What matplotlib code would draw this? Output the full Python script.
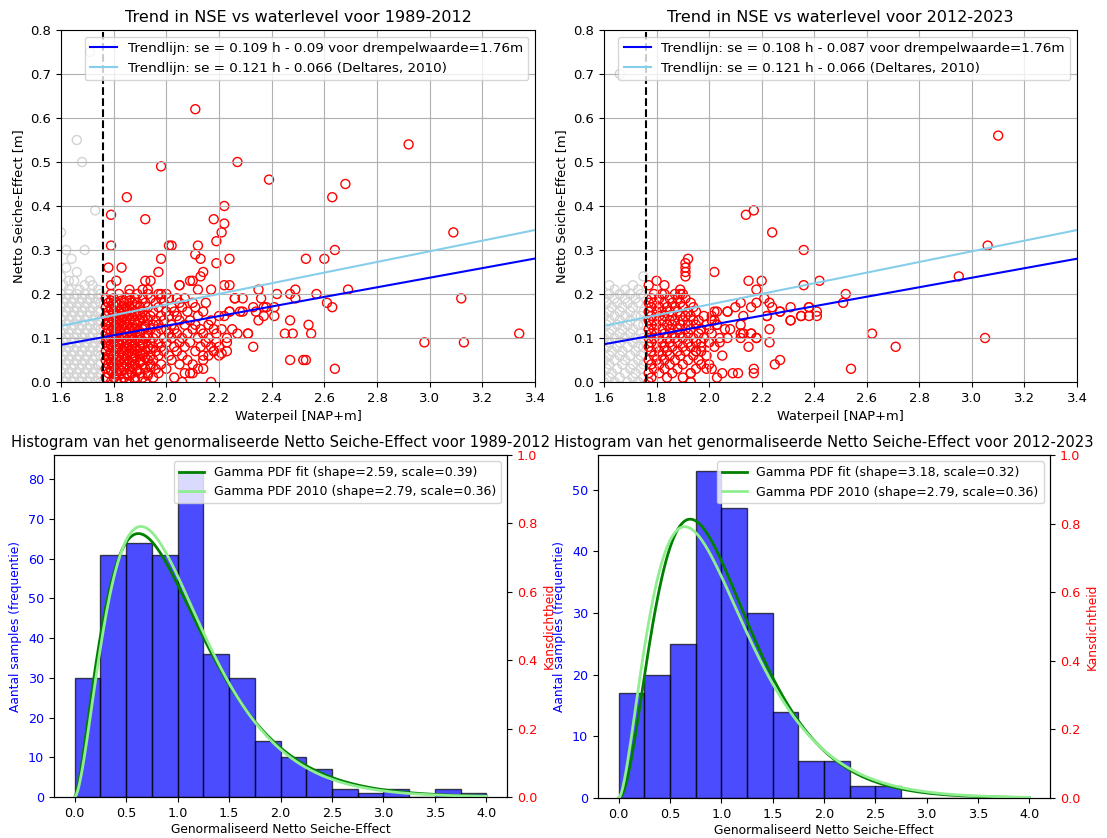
import math
import numpy as np
import matplotlib
matplotlib.use("Agg")
import matplotlib.pyplot as plt

# ---------------- data: NSE vs waterlevel 1989-2012 ----------------
THRESHOLD = 1.76
TREND_A = (0.109, -0.09)
TREND_B = (0.108, -0.087)
TREND_2010 = (0.121, -0.066)

# dense part above threshold, one list of waterlevels per NSE row
DENSE_A_Y = [0.00, 0.01, 0.02, 0.03, 0.04, 0.05, 0.06, 0.07, 0.08, 0.09, 0.10,
             0.11, 0.12, 0.13, 0.14, 0.15, 0.16, 0.17, 0.18, 0.19, 0.20]
DENSE_A_X = [
    [1.79, 1.83, 1.86, 1.92, 2.06, 2.17],
    [1.77, 1.80, 1.84, 1.88, 1.91, 1.95, 2.03],
    [1.78, 1.81, 1.85, 1.87, 1.90, 1.93, 1.97, 2.09],
    [1.77, 1.79, 1.82, 1.86, 1.89, 1.92, 1.96, 2.00, 2.12],
    [1.78, 1.80, 1.83, 1.85, 1.88, 1.91, 1.94, 1.98, 2.05, 2.10],
    [1.77, 1.79, 1.81, 1.84, 1.87, 1.90, 1.93, 1.95, 2.02, 2.08, 2.14],
    [1.78, 1.80, 1.82, 1.85, 1.88, 1.91, 1.94, 1.97, 2.01, 2.06, 2.16, 2.20],
    [1.77, 1.79, 1.83, 1.86, 1.89, 1.92, 1.96, 1.99, 2.04, 2.11, 2.18],
    [1.78, 1.81, 1.84, 1.87, 1.90, 1.93, 1.95, 1.98, 2.03, 2.07, 2.13, 2.17],
    [1.77, 1.80, 1.82, 1.85, 1.88, 1.91, 1.94, 1.97, 2.00, 2.05, 2.09, 2.15, 2.19],
    [1.78, 1.79, 1.81, 1.84, 1.86, 1.89, 1.92, 1.95, 1.99, 2.02, 2.06, 2.12, 2.16],
    [1.77, 1.80, 1.83, 1.85, 1.87, 1.90, 1.93, 1.96, 2.01, 2.04, 2.08, 2.14, 2.19],
    [1.78, 1.81, 1.84, 1.86, 1.88, 1.91, 1.94, 1.98, 2.00, 2.03, 2.10, 2.13, 2.18],
    [1.77, 1.79, 1.82, 1.85, 1.89, 1.92, 1.95, 1.97, 2.02, 2.07, 2.11, 2.16],
    [1.78, 1.80, 1.83, 1.86, 1.88, 1.90, 1.93, 1.96, 1.99, 2.05, 2.09, 2.17],
    [1.77, 1.81, 1.84, 1.87, 1.89, 1.92, 1.94, 1.98, 2.01, 2.04, 2.12, 2.20],
    [1.78, 1.80, 1.82, 1.85, 1.88, 1.91, 1.95, 2.00, 2.03, 2.08, 2.14],
    [1.77, 1.79, 1.83, 1.86, 1.90, 1.93, 1.97, 2.02, 2.06, 2.11],
    [1.78, 1.81, 1.84, 1.87, 1.89, 1.92, 1.96, 1.99, 2.05, 2.10],
    [1.77, 1.80, 1.85, 1.88, 1.91, 1.94, 1.98, 2.01, 2.04],
    [1.79, 1.82, 1.86, 1.89, 1.93, 1.97, 2.00],
]
# extra points in the most crowded part (1.77 - 1.95)
EXTRA_A_Y = [0.005, 0.015, 0.025, 0.035, 0.045, 0.055, 0.065, 0.075, 0.085, 0.095,
             0.105, 0.115, 0.125, 0.135, 0.145, 0.155, 0.165, 0.175, 0.185]
EXTRA_A_X = [
    [1.81, 1.88],
    [1.82, 1.86, 1.93],
    [1.79, 1.83, 1.89],
    [1.80, 1.84, 1.87, 1.94],
    [1.79, 1.82, 1.86, 1.90],
    [1.78, 1.83, 1.88, 1.92],
    [1.79, 1.84, 1.87, 1.90],
    [1.81, 1.85, 1.88, 1.94],
    [1.79, 1.82, 1.86, 1.91],
    [1.78, 1.83, 1.87, 1.90],
    [1.80, 1.83, 1.87, 1.93],
    [1.79, 1.82, 1.86, 1.89],
    [1.80, 1.83, 1.87, 1.92],
    [1.78, 1.81, 1.84, 1.88],
    [1.79, 1.82, 1.85, 1.91],
    [1.80, 1.83, 1.86, 1.90],
    [1.79, 1.84, 1.87],
    [1.80, 1.82, 1.88],
    [1.79, 1.83, 1.86],
]
# scattered points above threshold
OUT_A_X = [2.11, 2.92, 1.98, 2.27, 2.39, 2.68, 2.63, 1.85, 1.79, 1.92, 2.22, 2.18,
           2.22, 2.21, 2.19, 3.09, 1.79, 2.01, 2.02, 2.12, 2.64, 1.98, 2.11, 2.13,
           2.24, 2.19, 2.53, 2.60, 1.78, 1.83, 1.97, 2.14, 2.13, 2.09, 2.10, 1.92,
           1.94, 1.81, 1.79, 2.05, 2.22, 2.24, 1.86, 1.91, 1.93, 1.98, 2.12, 2.17,
           2.35, 2.49, 2.47, 2.42, 2.57, 2.69, 3.12, 2.36, 2.26, 2.07, 2.61, 2.63,
           2.49, 2.33, 2.37, 2.35, 2.47, 2.54, 2.55, 2.45, 2.48, 2.27, 2.31, 2.31,
           2.25, 2.98, 3.13, 3.34, 2.33, 2.47, 2.52, 2.53, 2.64, 2.28, 2.29, 2.24,
           2.23, 2.23, 2.21, 2.18, 2.05, 2.15, 2.26, 2.29, 2.38, 2.20, 2.14, 2.10,
           2.07, 2.14, 2.24, 2.22, 2.21, 2.23, 2.34, 2.37, 2.41, 2.41]
OUT_A_Y = [0.62, 0.54, 0.49, 0.50, 0.46, 0.45, 0.42, 0.42, 0.38, 0.37, 0.40, 0.37,
           0.36, 0.34, 0.32, 0.34, 0.31, 0.31, 0.31, 0.31, 0.30, 0.28, 0.29, 0.28,
           0.28, 0.27, 0.28, 0.28, 0.26, 0.26, 0.25, 0.25, 0.24, 0.23, 0.23, 0.23,
           0.23, 0.23, 0.22, 0.22, 0.22, 0.22, 0.21, 0.21, 0.21, 0.20, 0.21, 0.21,
           0.21, 0.21, 0.20, 0.20, 0.20, 0.21, 0.19, 0.19, 0.19, 0.19, 0.18, 0.17,
           0.19, 0.17, 0.17, 0.14, 0.14, 0.13, 0.11, 0.11, 0.11, 0.11, 0.11, 0.11,
           0.12, 0.09, 0.09, 0.11, 0.08, 0.05, 0.05, 0.05, 0.03, 0.16, 0.16, 0.16,
           0.09, 0.07, 0.065, 0.07, 0.22, 0.18, 0.19, 0.19, 0.17, 0.08, 0.03, 0.02,
           0.02, 0.06, 0.16, 0.15, 0.12, 0.10, 0.16, 0.15, 0.17, 0.15]

# below threshold (grey)
GREY_A_Y = [0.00, 0.01, 0.02, 0.03, 0.04, 0.05, 0.06, 0.07, 0.08, 0.09, 0.10,
            0.11, 0.12, 0.13, 0.14, 0.15, 0.16, 0.17, 0.18, 0.19, 0.20]
GREY_A_X = [
    [1.58, 1.61, 1.64, 1.67, 1.70, 1.73, 1.75],
    [1.59, 1.62, 1.65, 1.68, 1.71, 1.74],
    [1.57, 1.60, 1.63, 1.66, 1.69, 1.72, 1.75],
    [1.58, 1.61, 1.64, 1.67, 1.70, 1.73],
    [1.59, 1.62, 1.65, 1.68, 1.71, 1.74, 1.75],
    [1.57, 1.60, 1.63, 1.66, 1.69, 1.72],
    [1.58, 1.61, 1.64, 1.67, 1.70, 1.73, 1.75],
    [1.59, 1.62, 1.65, 1.68, 1.71, 1.74],
    [1.57, 1.60, 1.63, 1.66, 1.69, 1.72, 1.75],
    [1.58, 1.61, 1.64, 1.67, 1.70, 1.73],
    [1.59, 1.62, 1.65, 1.68, 1.71, 1.74, 1.75],
    [1.57, 1.60, 1.63, 1.66, 1.69, 1.72],
    [1.58, 1.61, 1.64, 1.67, 1.70, 1.73, 1.75],
    [1.59, 1.62, 1.65, 1.68, 1.71, 1.74],
    [1.57, 1.60, 1.63, 1.66, 1.69, 1.72, 1.75],
    [1.58, 1.61, 1.64, 1.67, 1.70, 1.73],
    [1.59, 1.62, 1.65, 1.68, 1.71, 1.74, 1.75],
    [1.57, 1.60, 1.63, 1.66, 1.69, 1.72],
    [1.58, 1.61, 1.64, 1.67, 1.70, 1.73, 1.75],
    [1.59, 1.62, 1.65, 1.68, 1.71, 1.74],
    [1.60, 1.63, 1.66, 1.69, 1.72, 1.75],
]
GREY_OUT_A_X = [1.71, 1.66, 1.68, 1.73, 1.60, 1.62, 1.69, 1.64, 1.62, 1.63, 1.65,
                1.69, 1.63, 1.61, 1.67, 1.72, 1.74, 1.60, 1.66, 1.71]
GREY_OUT_A_Y = [0.75, 0.55, 0.50, 0.39, 0.34, 0.30, 0.30, 0.28, 0.26, 0.23, 0.23,
                0.22, 0.21, 0.22, 0.21, 0.22, 0.21, 0.24, 0.25, 0.23]

# ---------------- data: NSE vs waterlevel 2012-2023 ----------------
DENSE_B_Y = [0.00, 0.01, 0.02, 0.03, 0.04, 0.05, 0.06, 0.07, 0.08, 0.09, 0.10,
             0.11, 0.12, 0.13, 0.14, 0.15, 0.16, 0.17, 0.18, 0.19, 0.20]
DENSE_B_X = [
    [1.77, 1.93],
    [1.78, 1.84, 1.90],
    [1.77, 1.81, 1.86, 1.93],
    [1.79, 1.83, 1.88, 1.95],
    [1.78, 1.81, 1.85, 1.90, 1.97],
    [1.77, 1.80, 1.83, 1.87, 1.92, 1.96],
    [1.79, 1.82, 1.85, 1.89, 1.94, 1.99],
    [1.78, 1.81, 1.84, 1.88, 1.91, 1.95],
    [1.77, 1.80, 1.83, 1.86, 1.90, 1.93, 1.97, 2.02],
    [1.78, 1.82, 1.85, 1.88, 1.92, 1.95, 2.00],
    [1.77, 1.79, 1.81, 1.84, 1.87, 1.90, 1.94, 1.98, 2.04],
    [1.78, 1.80, 1.83, 1.86, 1.89, 1.92, 1.96, 2.01],
    [1.77, 1.79, 1.82, 1.85, 1.88, 1.91, 1.93, 1.97, 2.00],
    [1.78, 1.80, 1.84, 1.86, 1.89, 1.92, 1.95, 1.99, 2.03],
    [1.77, 1.79, 1.82, 1.85, 1.87, 1.90, 1.94, 1.96, 2.01],
    [1.78, 1.81, 1.83, 1.86, 1.89, 1.91, 1.93, 1.98],
    [1.77, 1.80, 1.82, 1.85, 1.88, 1.92, 1.95],
    [1.78, 1.81, 1.84, 1.87, 1.90, 1.94],
    [1.77, 1.79, 1.83, 1.86, 1.89, 1.93],
    [1.78, 1.81, 1.85, 1.88, 1.91],
    [1.79, 1.83, 1.87, 1.90],
]
OUT_B_X = [3.10, 2.17, 2.14, 2.24, 2.36, 3.06, 1.92, 1.91, 1.91, 1.91, 1.91, 2.02,
           2.95, 2.15, 2.20, 2.42, 1.80, 1.77, 1.83, 2.36, 2.18, 1.89, 1.89, 2.52,
           2.51, 1.82, 2.23, 2.18, 2.16, 2.12, 2.31, 2.38, 2.41, 2.41, 2.38, 2.35,
           2.27, 2.31, 2.22, 2.23, 2.23, 2.18, 2.16, 2.12, 2.07, 2.04, 2.62, 2.71,
           3.05, 2.54, 2.27, 2.25, 2.17, 2.17, 2.09, 2.11, 2.05, 2.03, 2.05, 2.00,
           1.99, 2.01, 1.97, 1.95, 1.93, 1.93, 2.00, 1.97, 2.06, 2.12, 2.13, 2.10,
           2.07, 2.13, 2.02, 2.03, 2.01, 2.02, 2.03, 2.07, 2.08, 2.12, 2.13, 2.16,
           2.18, 2.15, 2.22, 2.27, 2.31, 2.35, 2.38, 2.21, 2.24]
OUT_B_Y = [0.56, 0.39, 0.38, 0.34, 0.30, 0.31, 0.28, 0.27, 0.26, 0.25, 0.24, 0.25,
           0.24, 0.23, 0.23, 0.23, 0.23, 0.22, 0.22, 0.22, 0.21, 0.21, 0.20, 0.20,
           0.18, 0.20, 0.18, 0.18, 0.17, 0.18, 0.17, 0.17, 0.16, 0.15, 0.15, 0.15,
           0.16, 0.14, 0.15, 0.12, 0.09, 0.10, 0.11, 0.10, 0.10, 0.09, 0.11, 0.08,
           0.10, 0.03, 0.05, 0.04, 0.03, 0.02, 0.02, 0.02, 0.06, 0.01, 0.02, 0.04,
           0.03, 0.03, 0.07, 0.07, 0.02, 0.00, 0.09, 0.09, 0.12, 0.13, 0.11, 0.17,
           0.16, 0.15, 0.16, 0.16, 0.15, 0.14, 0.13, 0.16, 0.12, 0.11, 0.11, 0.11,
           0.10, 0.08, 0.15, 0.16, 0.14, 0.15, 0.17, 0.19, 0.17]

GREY_B_Y = [0.00, 0.01, 0.02, 0.03, 0.04, 0.05, 0.06, 0.07, 0.08, 0.09, 0.10,
            0.11, 0.12, 0.13, 0.14, 0.15, 0.16, 0.17, 0.18, 0.19, 0.20]
GREY_B_X = [
    [1.60, 1.64, 1.69, 1.73],
    [1.62, 1.66, 1.71, 1.75],
    [1.59, 1.63, 1.68, 1.72],
    [1.61, 1.65, 1.70, 1.74],
    [1.58, 1.62, 1.67, 1.71, 1.75],
    [1.60, 1.64, 1.68, 1.73],
    [1.62, 1.66, 1.70, 1.74],
    [1.59, 1.63, 1.67, 1.72],
    [1.61, 1.65, 1.69, 1.73, 1.75],
    [1.58, 1.62, 1.66, 1.71],
    [1.60, 1.64, 1.68, 1.72, 1.75],
    [1.62, 1.66, 1.70, 1.74],
    [1.59, 1.63, 1.67, 1.71],
    [1.61, 1.65, 1.69, 1.73, 1.75],
    [1.58, 1.62, 1.66, 1.70],
    [1.60, 1.64, 1.68, 1.72, 1.74],
    [1.62, 1.66, 1.70, 1.75],
    [1.59, 1.63, 1.67, 1.71],
    [1.61, 1.65, 1.69, 1.73],
    [1.60, 1.64, 1.68, 1.72],
    [1.62, 1.66, 1.70, 1.74],
]
GREY_OUT_B_X = [1.66, 1.62, 1.71, 1.75, 1.64, 1.73, 1.68]
GREY_OUT_B_Y = [0.70, 0.22, 0.22, 0.24, 0.21, 0.21, 0.21]

# ---------------- data: histograms ----------------
BIN_EDGES = [0.0, 0.25, 0.5, 0.75, 1.0, 1.25, 1.5, 1.75, 2.0, 2.25, 2.5, 2.75,
             3.0, 3.25, 3.5, 3.75, 4.0]
COUNTS_A = [30, 61, 64, 61, 82, 36, 30, 14, 10, 7, 2, 1, 2, 0, 2, 1]
COUNTS_B = [17, 20, 25, 53, 47, 30, 14, 6, 6, 2, 2, 0, 0, 0, 0, 0]
GAMMA_A = (2.59, 0.39)
GAMMA_B = (3.18, 0.32)
GAMMA_2010 = (2.79, 0.36)


def rows_to_points(ys, xs):
    px, py = [], []
    for y, row in zip(ys, xs):
        for x in row:
            px.append(x)
            py.append(y)
    return px, py


def gamma_pdf(x, shape, scale):
    return x ** (shape - 1) * np.exp(-x / scale) / (math.gamma(shape) * scale ** shape)


fig = plt.figure(figsize=(11.07, 8.38), dpi=100)
W, H = 1107, 838


def axes_px(left, top, right, bottom):
    return fig.add_axes([left / W, (H - bottom) / H, (right - left) / W, (bottom - top) / H])


ax_tl = axes_px(61, 30, 535, 382)
ax_tr = axes_px(604, 30, 1077, 382)
ax_bl = axes_px(54, 455, 507, 797)
ax_br = axes_px(598, 455, 1050, 798)

ex_x, ex_y = rows_to_points(EXTRA_A_Y, EXTRA_A_X)

h = np.array([1.6, 3.4])
scatter_sets = [
    (ax_tl, DENSE_A_Y, DENSE_A_X, OUT_A_X + ex_x, OUT_A_Y + ex_y, GREY_A_Y, GREY_A_X,
     GREY_OUT_A_X, GREY_OUT_A_Y, TREND_A, 'Trend in NSE vs waterlevel voor 1989-2012'),
    (ax_tr, DENSE_B_Y, DENSE_B_X, OUT_B_X, OUT_B_Y, GREY_B_Y, GREY_B_X,
     GREY_OUT_B_X, GREY_OUT_B_Y, TREND_B, 'Trend in NSE vs waterlevel voor 2012-2023'),
]
for ax, dy, dx, ox, oy, gy, gx, gox, goy, trend, title in scatter_sets:
    gxx, gyy = rows_to_points(gy, gx)
    ax.scatter(gxx + gox, gyy + goy, s=42, facecolors='none', edgecolors='lightgrey', linewidths=1)
    rx, ry = rows_to_points(dy, dx)
    ax.scatter(rx + ox, ry + oy, s=42, facecolors='none', edgecolors='red', linewidths=1)
    ax.plot(h, trend[0] * h + trend[1], color='blue', lw=1.5,
            label='Trendlijn: se = %s h - %s voor drempelwaarde=%.2fm' % (trend[0], -trend[1], THRESHOLD))
    ax.plot(h, TREND_2010[0] * h + TREND_2010[1], color='skyblue', lw=1.5,
            label='Trendlijn: se = 0.121 h - 0.066 (Deltares, 2010)')
    ax.axvline(THRESHOLD, color='black', ls='--', lw=1.5)
    ax.set_xlim(1.6, 3.4)
    ax.set_ylim(0, 0.8)
    ax.grid(True)
    ax.tick_params(labelsize=9.5)
    ax.set_title(title, fontsize=11.5)
    ax.set_xlabel('Waterpeil [NAP+m]', fontsize=9.4)
    ax.set_ylabel('Netto Seiche-Effect [m]', fontsize=9.4)
    ax.legend(loc='upper right', fontsize=9.7)

x_pdf = np.linspace(0, 4, 400)
hist_sets = [
    (ax_bl, COUNTS_A, GAMMA_A, 'Histogram van het genormaliseerde Netto Seiche-Effect voor 1989-2012'),
    (ax_br, COUNTS_B, GAMMA_B, 'Histogram van het genormaliseerde Netto Seiche-Effect voor 2012-2023'),
]
for ax, counts, gfit, title in hist_sets:
    ax.bar(BIN_EDGES[:-1], counts, width=0.25, align='edge', color='blue', alpha=0.7, edgecolor='black')
    ax.set_xlabel('Genormaliseerd Netto Seiche-Effect', fontsize=8.8, labelpad=2)
    ax.set_ylabel('Aantal samples (frequentie)', color='blue', fontsize=8.8)
    ax.tick_params(axis='y', labelcolor='blue', labelsize=9.2)
    ax.tick_params(axis='x', labelsize=9.2)
    ax.set_title(title, fontsize=10.6)
    ax2 = ax.twinx()
    ax2.plot(x_pdf, gamma_pdf(x_pdf, *gfit), color='green', lw=2,
             label='Gamma PDF fit (shape=%.2f, scale=%.2f)' % gfit)
    ax2.plot(x_pdf, gamma_pdf(x_pdf, *GAMMA_2010), color='lightgreen', lw=2,
             label='Gamma PDF 2010 (shape=%.2f, scale=%.2f)' % GAMMA_2010)
    ax2.set_ylim(0, 1)
    ax2.set_ylabel('Kansdichtheid', color='red', fontsize=8.8)
    ax2.tick_params(axis='y', labelcolor='red', labelsize=9.2)
    ax2.legend(loc='upper right', fontsize=9)

fig.savefig('out.png', dpi=100)
